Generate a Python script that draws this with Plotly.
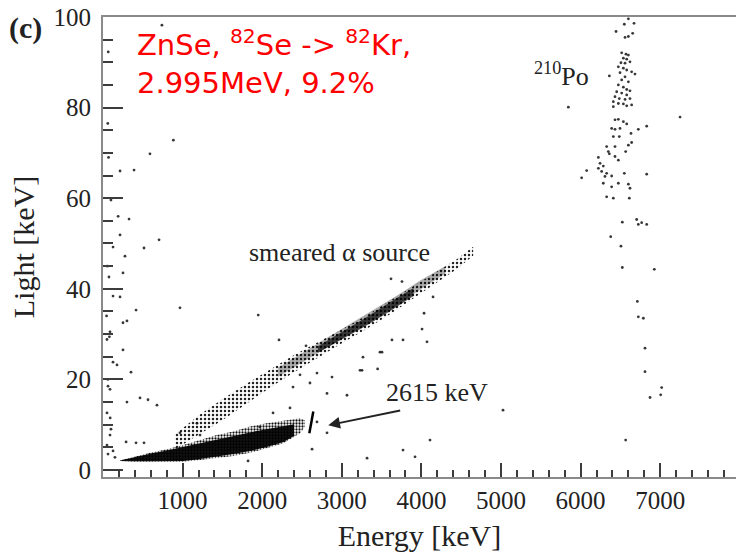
import plotly.graph_objects as go

# ---- gamma/beta band (lower band) : energy grid and light envelope ----
gb_energy = [214, 381, 590, 800, 1009, 1219, 1428, 1637, 1847, 2056, 2266, 2475, 2538]
gb_upper = [2.1, 2.9, 3.8, 4.6, 5.5, 6.6, 7.7, 8.5, 9.6, 10.3, 10.9, 11.4, 11.0]
gb_lower = [2.0, 1.8, 1.8, 1.8, 1.8, 2.2, 2.6, 3.1, 3.8, 4.8, 5.9, 8.1, 9.6]

gb_core_energy = [214, 381, 590, 800, 1009, 1219, 1428, 1637, 1847, 2056, 2266, 2400]
gb_core_upper = [2.1, 2.8, 3.6, 4.3, 5.1, 6.0, 6.8, 7.5, 8.3, 9.0, 9.7, 10.1]
gb_core_lower = [2.0, 1.9, 1.9, 1.9, 2.0, 2.4, 2.9, 3.5, 4.2, 5.1, 6.2, 7.5]

# ---- smeared alpha source band ----
alpha_energy = [900, 1200, 1500, 1800, 2100, 2400, 2700, 3000, 3300, 3600, 3900, 4200, 4450, 4650]
alpha_upper = [7.8, 12.0, 15.6, 19.0, 22.2, 25.4, 28.2, 31.0, 34.0, 37.3, 40.6, 43.8, 46.6, 49.3]
alpha_lower = [4.5, 7.8, 11.0, 14.6, 18.2, 21.6, 24.8, 28.0, 31.0, 34.3, 37.8, 41.4, 44.4, 47.3]

alpha_mid_energy = [2200, 2500, 2800, 3100, 3400, 3700, 4000, 4300]
alpha_mid_upper = [22.6, 25.8, 28.9, 32.1, 35.3, 38.6, 42.0, 45.0]
alpha_mid_lower = [20.6, 23.8, 26.9, 30.0, 33.1, 36.4, 40.0, 43.4]

alpha_core_energy = [2700, 3000, 3300, 3600, 3900]
alpha_core_upper = [27.3, 30.4, 33.6, 37.0, 40.2]
alpha_core_lower = [25.9, 28.8, 31.8, 35.0, 38.4]

# ---- 2615 keV line (208Tl) ----
tl_energy = [2592, 2642]
tl_light = [8.1, 12.9]

# ---- 210Po alpha events ----
po_energy = [6549, 6671, 6445, 6654, 6558, 6600, 6600,
             6516, 6570, 6600, 6537, 6579, 6507, 6558, 6620, 6474, 6537, 6579, 6641,
             6683, 6495, 6558, 6516, 6600, 6474, 6537, 6579, 6620, 6453, 6516, 6579,
             6432, 6486, 6558, 6620, 6411, 6474, 6537, 6641, 6411, 6361, 6579,
             6432, 6474, 6537, 6579, 6390, 6432, 6495, 6725, 6830, 6633, 6411, 6486,
             6600, 6641, 6327, 6432, 6348, 6361, 6566, 6432, 6474, 6223, 6244, 6285,
             6223, 6264, 6327, 6390, 6306, 6285, 6390, 6474, 6600, 6620, 6411, 6327,
             6612, 6076, 6013, 6549, 6830,
             6524, 6704, 6725, 6767, 6830, 6378, 6507, 6524, 6926, 6713, 6725, 6788,
             6809, 6809, 7018, 6872, 7006, 6566, 7249, 5846]
po_light = [98.4, 98.6, 96.8, 96.4, 95.5, 95.7, 99.6,
            92.1, 91.8, 91.6, 90.9, 90.7, 89.9, 89.8, 90.1, 89.0, 88.7, 88.3, 87.9,
            87.4, 87.7, 86.8, 86.1, 85.7, 85.0, 84.5, 84.0, 83.7, 83.5, 83.2, 82.8,
            82.4, 82.0, 81.8, 82.0, 81.3, 80.9, 80.8, 80.6, 80.2, 87.0, 80.4,
            77.3, 77.4, 76.9, 76.4, 75.4, 75.2, 75.4, 75.2, 75.9, 74.3, 73.6, 73.6,
            71.7, 72.3, 71.4, 71.4, 70.3, 69.8, 70.3, 69.2, 68.4, 69.0, 67.7, 67.1,
            66.6, 65.9, 65.5, 64.9, 64.8, 63.3, 62.5, 63.3, 63.1, 62.2, 60.0, 60.3,
            60.0, 66.1, 64.5, 65.5, 65.3,
            54.7, 55.3, 54.2, 54.6, 54.2, 51.5, 49.4, 44.7, 44.3, 37.2, 33.8, 33.5,
            26.9, 21.7, 18.2, 16.0, 16.6, 6.6, 77.9, 80.1]

# ---- isolated background events ----
bg_energy = [740, 66, 884, 590, 214, 390, 100, 190, 327, 214, 126, 515, 704, 276,
             251, 75, 126, 214, 967, 415, 251, 301, 88, 80, 50, 126, 176, 251, 352,
             63, 88, 465, 301, 565, 678, 50, 88, 50, 126, 63, 150, 100,
             60, 70, 55, 45, 60, 90,
             290, 415, 515, 967, 1180, 1219, 1822, 2626, 2814, 2688, 2349, 2136, 1970,
             1950, 2211, 2550, 3618, 3756, 3505, 3630, 3769, 4070, 4008, 4033, 4146,
             3266, 3254, 3450, 2688, 2600, 2877, 3065, 2814, 2475, 2387,
             5025, 4108, 3769, 3920, 3317, 3229, 3480]
bg_light = [98.2, 92.3, 72.8, 69.8, 66.0, 66.2, 59.6, 56.0, 55.4, 51.9, 49.2, 49.0, 50.8, 47.2,
            43.5, 42.6, 38.4, 38.2, 35.8, 35.3, 32.5, 32.9, 30.5, 29.4, 28.8, 23.8, 23.2, 26.5, 21.6,
            18.5, 17.8, 15.9, 15.0, 15.5, 14.3, 12.6, 7.7, 5.5, 4.2, 3.5, 2.8, 9.0,
            76.5, 69.0, 45.0, 34.0, 20.0, 11.5,
            6.2, 6.0, 6.0, 8.2, 10.3, 7.7, 2.0, 4.6, 8.2, 10.6, 13.7, 12.6, 9.5,
            34.2, 28.7, 27.4, 42.2, 41.6, 26.0, 28.7, 28.7, 28.3, 31.1, 34.6, 38.2,
            24.9, 22.0, 22.3, 21.4, 19.2, 20.5, 16.5, 16.9, 21.0, 18.3,
            13.2, 6.6, 4.4, 2.9, 2.6, 22.0, 26.0]

# ---- axis ticks ----
x_ticks = [1000, 2000, 3000, 4000, 5000, 6000, 7000]
x_minor_step = 200
y_ticks = [0, 20, 40, 60, 80, 100]
y_minor_step = 5

X_RANGE = [0, 7952]
Y_RANGE = [-1.55, 100]

SERIF = "Liberation Serif"
INK = "#222222"
AXIS = "#8a8a8a"
TICK = "#3c3c3c"


def band(energy, upper, lower, **style):
    """Closed polygon between an upper and a lower light envelope."""
    return go.Scatter(x=list(energy) + list(energy)[::-1],
                      y=list(upper) + list(lower)[::-1],
                      mode="lines", fill="toself", line=dict(width=0),
                      hoverinfo="skip", **style)


fig = go.Figure()

sparse = dict(shape=".", fgcolor="#222222", bgcolor="rgba(0,0,0,0)",
              size=4, solidity=0.3)
speckle = dict(shape=".", fgcolor="#111111", bgcolor="rgba(0,0,0,0)",
               size=3, solidity=0.45)

fig.add_trace(band(alpha_energy, alpha_upper, alpha_lower,
                   fillcolor="rgba(0,0,0,0.06)", fillpattern=sparse))
fig.add_trace(band(alpha_mid_energy, alpha_mid_upper, alpha_mid_lower,
                   fillcolor="rgba(0,0,0,0.32)"))
fig.add_trace(band(alpha_core_energy, alpha_core_upper, alpha_core_lower,
                   fillcolor="rgba(0,0,0,0.68)"))
fig.add_trace(band(gb_energy, gb_upper, gb_lower,
                   fillcolor="rgba(0,0,0,0.5)", fillpattern=speckle))
fig.add_trace(band(gb_core_energy, gb_core_upper, gb_core_lower,
                   fillcolor="rgba(0,0,0,0.93)"))

fig.add_trace(go.Scatter(x=tl_energy, y=tl_light, mode="lines",
                         line=dict(color="black", width=2.5), hoverinfo="skip"))

dots = dict(mode="markers", hoverinfo="skip",
            marker=dict(color="rgba(20,20,20,0.85)", size=2.8, line=dict(width=0)))
fig.add_trace(go.Scatter(x=po_energy, y=po_light, **dots))
fig.add_trace(go.Scatter(x=bg_energy, y=bg_light, **dots))

fig.update_layout(
    template="none",
    width=736, height=557,
    margin=dict(l=103, r=0, t=17, b=80),
    plot_bgcolor="white", paper_bgcolor="white",
    showlegend=False,
    font=dict(family=SERIF, color=INK),
)

fig.update_xaxes(
    range=X_RANGE, tickmode="array", tickvals=x_ticks,
    ticks="inside", ticklen=14, tickwidth=2, tickcolor=TICK,
    minor=dict(dtick=x_minor_step, tick0=0, ticks="inside", ticklen=7,
               tickwidth=2, tickcolor=TICK, showgrid=False),
    showline=True, linecolor=AXIS, linewidth=2, mirror=True,
    showgrid=False, zeroline=False,
    tickfont=dict(family=SERIF, size=25, color=INK),
    title=dict(text="Energy [keV]", font=dict(family=SERIF, size=30, color=INK),
               standoff=12),
)
fig.update_yaxes(
    range=Y_RANGE, tickmode="array", tickvals=y_ticks,
    ticks="inside", ticklen=20, tickwidth=2, tickcolor=TICK,
    minor=dict(dtick=y_minor_step, tick0=0, ticks="inside", ticklen=10,
               tickwidth=2, tickcolor=TICK, showgrid=False),
    showline=True, linecolor=AXIS, linewidth=2,
    showgrid=False, zeroline=False,
    tickfont=dict(family=SERIF, size=25, color=INK),
    ticklabelstandoff=5,
    title=dict(text="Light [keV]", font=dict(family=SERIF, size=30, color=INK),
               standoff=10),
)

fig.add_annotation(xref="paper", yref="paper", x=-0.122, y=0.976,
                   xanchor="center", yanchor="middle",
                   text="<b>(c)</b>", showarrow=False,
                   font=dict(family=SERIF, size=30, color=INK))
fig.add_annotation(xref="paper", yref="paper", x=0.05, y=0.99,
                   xanchor="left", yanchor="top", align="left",
                   text="ZnSe, <sup>82</sup>Se -> <sup>82</sup>Kr,<br>2.995MeV, 9.2%",
                   showarrow=False,
                   font=dict(family="DejaVu Sans", size=29, color="#ff0000"))
fig.add_annotation(x=2977, y=48.1, text="smeared \u03b1 source", showarrow=False,
                   font=dict(family=SERIF, size=26, color=INK))
fig.add_annotation(x=4196, y=17.0, text="2615 keV", showarrow=False,
                   font=dict(family=SERIF, size=26, color=INK))
fig.add_annotation(x=2830, y=9.9, ax=3752, ay=13.2, axref="x", ayref="y",
                   text="", showarrow=True, arrowhead=2, arrowsize=1.3,
                   arrowwidth=1.8, arrowcolor=INK)
fig.add_annotation(x=5754, y=87.2, text="<sup>210</sup>Po", showarrow=False,
                   font=dict(family=SERIF, size=26, color=INK))

fig.write_html("out.html")
